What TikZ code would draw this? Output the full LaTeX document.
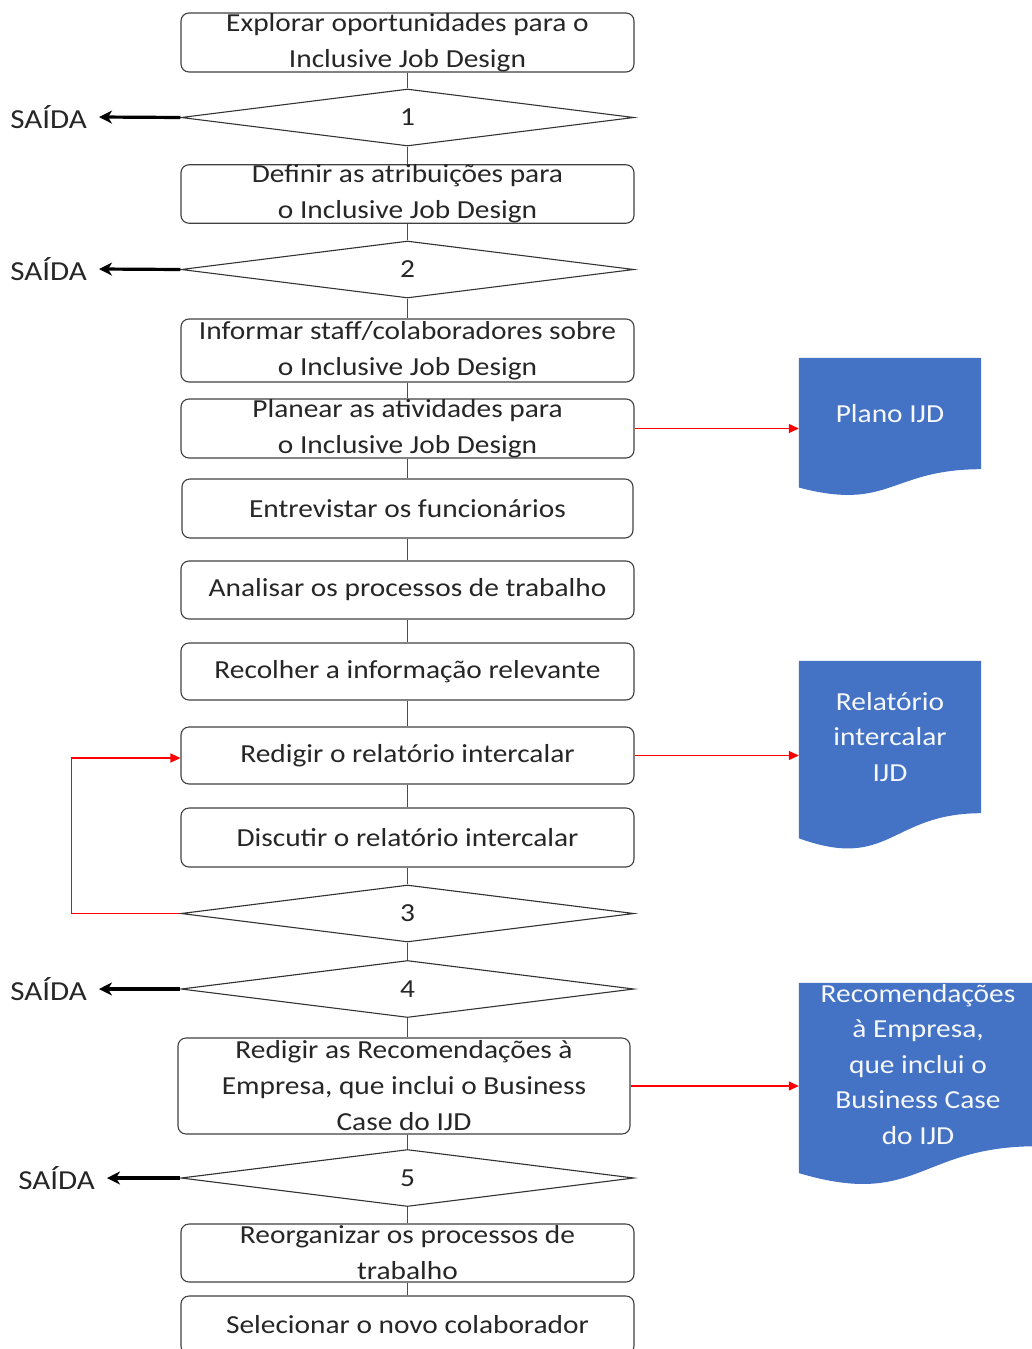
\documentclass[tikz,border=0pt]{standalone}
\usepackage{fontspec}
\setmainfont{Carlito}[FakeStretch=1.13]
\usetikzlibrary{shapes.geometric,arrows.meta,calc,backgrounds}
\definecolor{docblue}{HTML}{4472C4}
\definecolor{inkgray}{HTML}{262626}
% wavy bottom of a document shape, drawn behind the named node
\newcommand\docwave[1]{%
  \begin{scope}[on background layer]
    \fill[docblue] let \p1=(#1.north west), \p2=(#1.south east) in
      (\p1) -- (\x2,\y1) -- (\p2)
      .. controls ({(\x1+\x2)/2},\y2) and ({(\x1+\x2)/2},{\y2-0.381*(\y1-\y2)}) ..
      (\x1,{\y2-0.1646*(\y1-\y2)}) -- cycle;
  \end{scope}}
\begin{document}
\begin{tikzpicture}[x=1pt, y=-1pt,
  txt/.style={text=inkgray, font=\fontsize{26}{36}\selectfont},
  box/.style={txt, draw=black!75, line width=1.1pt, rounded corners=8pt,
    minimum width=453pt, minimum height=#1, inner sep=0pt, align=center},
  box/.default=58pt,
  dec/.style={txt, draw=black!80, line width=1.1pt, diamond, aspect=8,
    minimum width=453pt, minimum height=57pt, inner sep=0pt},
  doc/.style={text=white!95!docblue, font=\fontsize{26}{35.5}\selectfont,
    minimum width=#1, align=center, inner sep=0pt},
  exit/.style={txt, font=\fontsize{27.5}{30}\selectfont, anchor=east, inner sep=0pt},
  link/.style={red, line width=1.3pt},
  feed/.style={red, line width=1.3pt, -{Triangle[length=10pt,width=9pt]}},
  quit/.style={black, line width=3.2pt, -{Stealth[length=13pt,width=13pt,inset=4pt]}}]
  \useasboundingbox (0,0) rectangle (1031,1349);

  \node[box=59pt] (b1) at (407.5,42.5) {Explorar oportunidades para o\\Inclusive Job Design};
  \node[dec] (d1) at (407.5,117.5) {1};
  \node[box=57pt] (b2) at (407.5,194) {Definir as atribuições para\\o Inclusive Job Design};
  \node[dec] (d2) at (407.5,269.5) {2};
  \node[box=63pt] (b3) at (407.5,350.5) {Informar staff/colaboradores sobre\\o Inclusive Job Design};
  \node[box=59pt] (b4) at (407.5,428.5) {Planear as atividades para\\o Inclusive Job Design};
  \node[box=59pt, minimum width=451pt] (b5) at (407.5,508.5) {Entrevistar os funcionários};
  \node[box] (b6) at (407.5,590) {Analisar os processos de trabalho};
  \node[box=57pt] (b7) at (407.5,671.5) {Recolher a informação relevante};
  \node[box=57pt] (b8) at (407.5,755.5) {Redigir o relatório intercalar};
  \node[box=59pt] (b9) at (407.5,837.5) {Discutir o relatório intercalar};
  \node[dec] (d3) at (407.5,913.5) {3};
  \node[dec] (d4) at (407.5,989) {4};
  \node[box=96pt, minimum width=452pt] (b10) at (404,1086)
    {Redigir as Recomendações à\\Empresa, que inclui o Business\\Case do IJD};
  \node[dec] (d5) at (407.5,1178) {5};
  \node[box] (b11) at (407.5,1253) {Reorganizar os processos de\\trabalho};
  \node[box] (b12) at (407.5,1325) {Selecionar o novo colaborador};

  % exits
  \node[exit] (s1) at (87,117) {SAÍDA};
  \node[exit] (s2) at (87,269) {SAÍDA};
  \node[exit] (s4) at (87,989) {SAÍDA};
  \node[exit] (s5) at (95,1178) {SAÍDA};
  \foreach \d/\s in {d1/s1, d2/s2, d4/s4, d5/s5}
    \draw[quit] (\d.west) -- ([xshift=12pt]\s.east);

  % documents
  \node[doc=182pt, minimum height=111pt] (plano) at (890,413.5) {Plano IJD};
  \docwave{plano}
  \node[doc=182pt, minimum height=152pt] (relat) at (890,737) {Relatório\\intercalar\\IJD};
  \docwave{relat}
  \node[doc=238pt, minimum height=163pt] (recom) at (918,1064.5)
    {Recomendações\\à Empresa,\\que inclui o\\Business Case\\do IJD};
  \docwave{recom}

  % flow
  \foreach \a/\b in {b1/d1, d1/b2, b2/d2, d2/b3, b3/b4, b4/b5, b5/b6, b6/b7,
    b7/b8, b8/b9, b9/d3, d3/d4, d5/b11, b11/b12}
    \draw[link] (\a.south) -- (\b.north);
  \draw[link] (d4.south) -- (d4.south |- b10.north);
  \draw[link] (d5.north |- b10.south) -- (d5.north);
  \draw[feed] (b4.east) -- (b4.east -| plano.west);
  \draw[feed] (b8.east) -- (b8.east -| relat.west);
  \draw[feed] (b10.east) -- (b10.east -| recom.west);
  \draw[feed] (d3.west) -- ++(-109,0) |- ([yshift=-2.5pt]b8.west);
\end{tikzpicture}
\end{document}
